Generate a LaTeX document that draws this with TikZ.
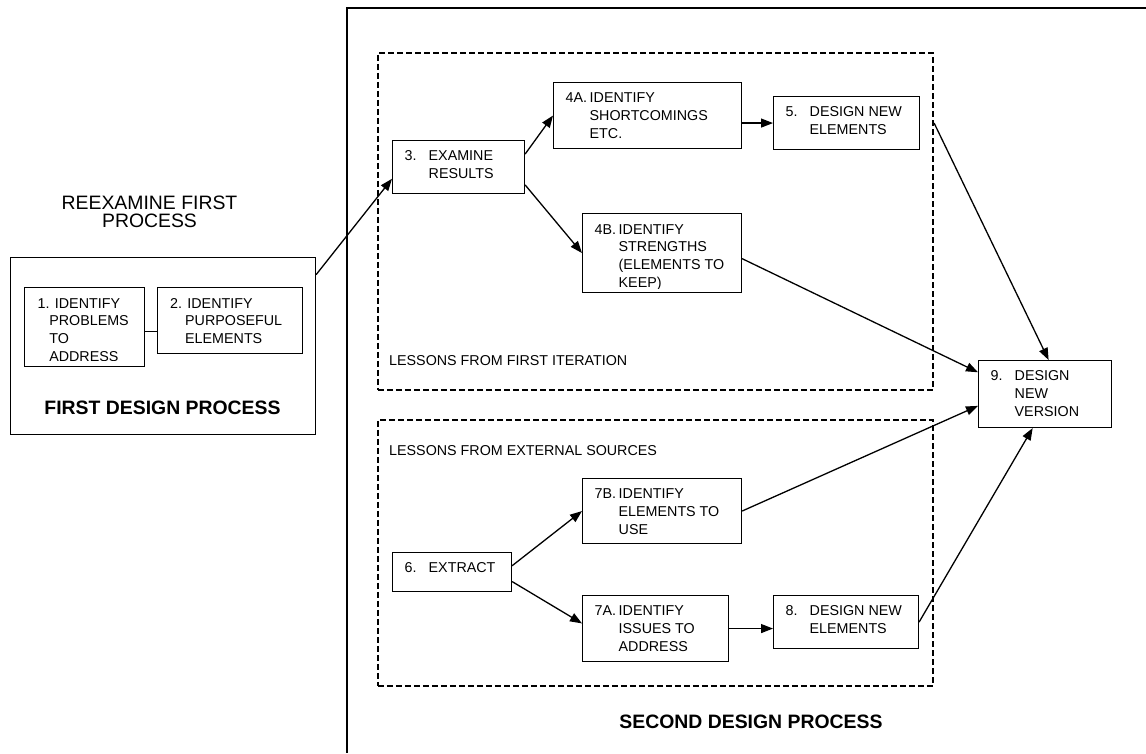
\documentclass[tikz,border=0pt]{standalone}
\usepackage{fontspec}
\setmainfont{Liberation Sans}
\usetikzlibrary{arrows.meta}
\tikzset{
  proc-box/.style={
    draw=black,
    line width=1.1pt,
    anchor=north west,
    inner sep=0pt
  },
  proc-text/.style={
    anchor=north west,
    inner sep=0pt,
    align=left,
    font=\fontsize{14.3}{17.8}\selectfont
  },
  lesson-frame/.style={
    draw=black,
    line width=1.8pt,
    dash pattern=on 6pt off 3pt,
    anchor=north west,
    inner sep=0pt
  },
  lesson-label/.style={anchor=west, inner sep=0pt, font=\fontsize{14.3}{17.8}\selectfont},
  title-text/.style={align=center, inner sep=0pt, font=\fontsize{19.4}{18}\selectfont},
  flow-arrow/.style={line width=1.3pt, -{Triangle[length=12pt,width=9pt]}},
  link-line/.style={line width=1.1pt}
}
\newcommand{\itemno}[1]{\makebox[24pt][l]{#1}}
\newcommand{\itemgap}{\hspace*{24pt}}
% box with its text placed from the top left corner
\newcommand{\procbox}[6]{
  \node[proc-box, minimum width=#4, minimum height=#5] (#1) at (#2,#3) {};
  \node[proc-text] (#1-text) at ([shift={(12.5,10.5)}]#1.north west) {#6};
}

\begin{document}
\begin{tikzpicture}[x=1pt,y=-1pt]
  \useasboundingbox (0,0) rectangle (1146,753);
  % first design process
  \node[title-text] (reexamine) at (149.5,212) {REEXAMINE FIRST\\PROCESS};
  \node[proc-box, minimum width=305, minimum height=177] (first) at (10,257) {};
  \node[title-text, font=\fontsize{19.4}{18}\selectfont\bfseries] (first-title) at (162.5,408) {FIRST DESIGN PROCESS};
  \node[proc-box, minimum width=120, minimum height=79] (n1) at (24,287) {};
  \begin{scope}
    \clip (n1.north west) rectangle ([yshift=7pt]n1.south east);
    \node[proc-text] (n1-text) at ([shift={(13.5,11)}]n1.north west)
      {1. IDENTIFY\\\hspace*{11.6pt}PROBLEMS\\\hspace*{11.6pt}TO\\\hspace*{11.6pt}ADDRESS};
  \end{scope}
  \node[proc-box, minimum width=145, minimum height=66] (n2) at (157,287) {};
  \node[proc-text] (n2-text) at ([shift={(13,11)}]n2.north west)
    {2. IDENTIFY\\\hspace*{15pt}PURPOSEFUL\\\hspace*{15pt}ELEMENTS};
  \draw[link-line] (n1.-4) -- (n1.-4 -| n2.west);

  % second design process
  \draw[link-line] (1146,8) -| (347,753);
  \node[title-text, font=\fontsize{19.4}{18}\selectfont\bfseries] (second-title) at (751,722) {SECOND DESIGN PROCESS};
  \node[lesson-frame, minimum width=555, minimum height=337] (lessons-first) at (377,52) {};
  \node[lesson-frame, minimum width=555, minimum height=266] (lessons-ext) at (377,419) {};
  \node[lesson-label] (lessons-first-label) at ([shift={(12,-30)}]lessons-first.south west) {LESSONS FROM FIRST ITERATION};
  \node[lesson-label] (lessons-ext-label) at ([shift={(12,32)}]lessons-ext.north west) {LESSONS FROM EXTERNAL SOURCES};

  \procbox{n3}{392}{140}{132}{53}{\itemno{3.}EXAMINE\\\itemgap RESULTS}
  \procbox{n4a}{553}{82}{188}{66}{\itemno{4A.}IDENTIFY\\\itemgap SHORTCOMINGS\\\itemgap ETC.}
  \node[proc-box, minimum width=159, minimum height=79] (n4b) at (582,213) {};
  \begin{scope}
    \clip (n4b.north west) rectangle ([yshift=5pt]n4b.south east);
    \node[proc-text] (n4b-text) at ([shift={(12.5,11)}]n4b.north west)
      {\itemno{4B.}IDENTIFY\\\itemgap STRENGTHS\\\itemgap (ELEMENTS TO\\\itemgap KEEP)};
  \end{scope}
  \procbox{n5}{773}{96}{146}{53}{\itemno{5.}DESIGN NEW\\\itemgap ELEMENTS}
  \procbox{n9}{978}{360}{133}{67}{\itemno{9.}DESIGN\\\itemgap NEW\\\itemgap VERSION}
  \procbox{n7b}{582}{478}{159}{65}{\itemno{7B.}IDENTIFY\\\itemgap ELEMENTS TO\\\itemgap USE}
  \procbox{n6}{392}{552}{119}{39}{\itemno{6.}EXTRACT}
  \procbox{n7a}{582}{595}{146}{66}{\itemno{7A.}IDENTIFY\\\itemgap ISSUES TO\\\itemgap ADDRESS}
  \procbox{n8}{773}{595}{145}{53}{\itemno{8.}DESIGN NEW\\\itemgap ELEMENTS}

  % arrows
  \draw[flow-arrow] (first.25) -- (n3.190);
  \draw[flow-arrow] (n3.11) -- (n4a.west);
  \draw[flow-arrow] (n3.-15) -- (n4b.west);
  \draw[flow-arrow] (n4a.east |- n5.west) -- (n5.west);
  \draw[flow-arrow] ([xshift=14pt]n5.east) -- (n9.84);
  \draw[flow-arrow] (n4b.-4) -- (n9.162);
  \draw[flow-arrow] (n6.6) -- (n7b.west);
  \draw[flow-arrow] (n6.-9) -- (n7a.176);
  \draw[flow-arrow] (n7a.east) -- (n7a.east -| n8.west);
  \draw[flow-arrow] (n7b.east) -- (n9.190);
  \draw[flow-arrow] (n8.east) -- (n9.250);
\end{tikzpicture}
\end{document}
